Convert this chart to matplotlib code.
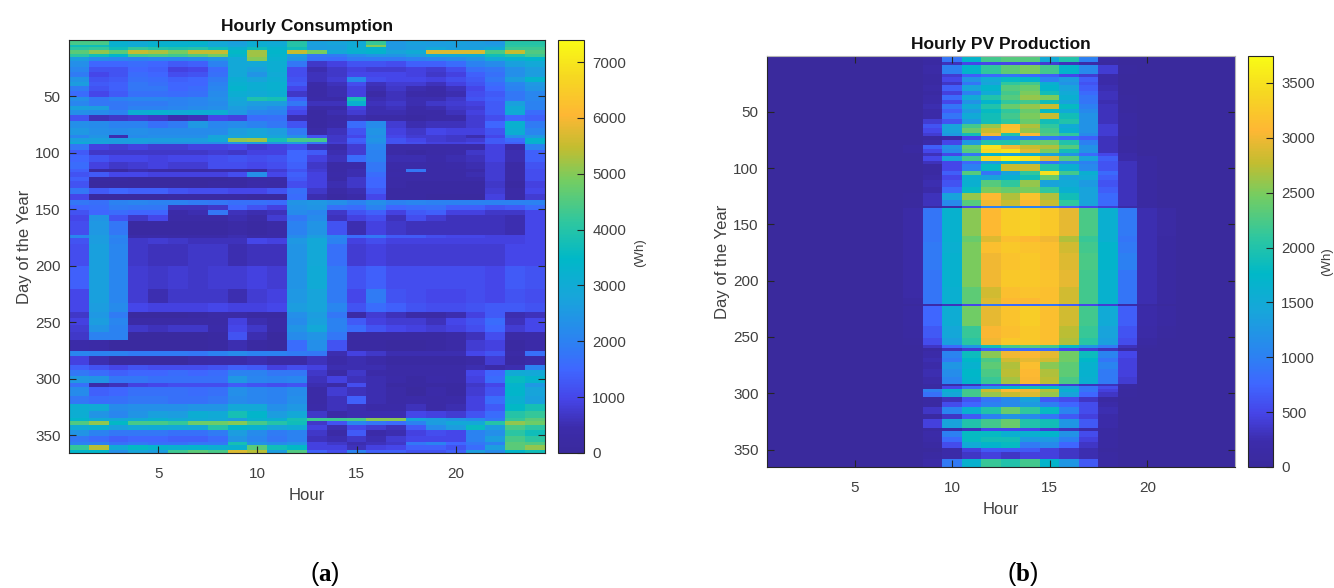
import matplotlib
matplotlib.use('Agg')
import matplotlib.pyplot as plt
from matplotlib.colors import LinearSegmentedColormap
import numpy as np

plt.rcParams['font.family'] = ['Liberation Sans', 'DejaVu Sans']
plt.rcParams['mathtext.fontset'] = 'custom'
plt.rcParams['mathtext.rm'] = 'Liberation Serif'
plt.rcParams['mathtext.bf'] = 'Liberation Serif:bold'

W, H = 1334, 588

# last day of each band, hourly consumption per band (hundreds of Wh, hours 1-24)
cons_end_days = [4, 6, 9, 12, 15, 19, 24, 28, 33, 37, 41, 45, 50, 54, 58, 62, 66, 72, 78, 84,
                 87, 90, 92, 97, 102, 108, 114, 117, 121, 125, 131, 136, 141, 146, 150, 155,
                 160, 172, 175, 180, 200, 220, 232, 240, 246, 252, 258, 265, 275, 279, 287,
                 292, 297, 303, 307, 315, 322, 328, 334, 337, 340, 345, 350, 355, 358, 362, 365]
cons_hundreds = [
    [44, 44, 32, 30, 32, 32, 33, 29, 27, 31, 30, 40, 27, 28, 30, 42, 25, 27, 26, 27, 26, 25, 40, 40],
    [37, 37, 32, 30, 33, 33, 31, 29, 28, 31, 31, 40, 26, 27, 30, 50, 25, 26, 26, 26, 26, 26, 41, 41],
    [41, 42, 37, 42, 40, 39, 40, 37, 32, 37, 33, 37, 26, 27, 31, 33, 25, 26, 29, 27, 27, 30, 43, 43],
    [46, 51, 46, 55, 53, 49, 55, 55, 35, 52, 34, 55, 49, 29, 32, 33, 28, 30, 57, 57, 57, 44, 55, 45],
    [41, 37, 34, 43, 44, 43, 45, 48, 33, 52, 33, 26, 18, 19, 22, 24, 24, 26, 29, 29, 30, 37, 39, 43],
    [26, 22, 21, 20, 21, 21, 22, 24, 29, 50, 32, 24, 17, 16, 19, 19, 19, 20, 21, 22, 24, 29, 32, 34],
    [23, 15, 15, 16, 15, 13, 14, 20, 29, 29, 31, 18, 7, 9, 12, 12, 11, 14, 14, 16, 20, 22, 27, 29],
    [21, 12, 12, 15, 14, 9, 10, 16, 29, 27, 31, 11, 5, 7, 9, 8, 8, 9, 8, 11, 17, 18, 23, 26],
    [19, 10, 12, 16, 15, 11, 12, 17, 29, 24, 30, 11, 6, 7, 10, 10, 10, 9, 7, 9, 14, 17, 23, 26],
    [24, 12, 13, 17, 16, 14, 15, 19, 31, 28, 31, 12, 6, 8, 22, 11, 10, 10, 9, 11, 13, 18, 26, 33],
    [26, 13, 14, 18, 17, 15, 15, 20, 32, 31, 32, 13, 4, 6, 11, 6, 8, 8, 6, 9, 12, 16, 21, 25],
    [19, 12, 14, 18, 18, 15, 16, 21, 33, 31, 32, 10, 3, 5, 9, 5, 7, 5, 4, 6, 10, 15, 20, 24],
    [16, 10, 13, 17, 17, 16, 17, 22, 31, 30, 31, 7, 3, 5, 9, 3, 6, 4, 3, 5, 11, 13, 18, 21],
    [23, 18, 20, 21, 21, 20, 21, 23, 29, 39, 38, 14, 4, 4, 38, 5, 6, 5, 5, 7, 12, 14, 18, 21],
    [21, 18, 18, 19, 19, 20, 21, 22, 28, 26, 26, 18, 6, 6, 32, 6, 7, 5, 7, 8, 9, 13, 27, 20],
    [27, 26, 18, 20, 20, 21, 22, 23, 26, 24, 22, 12, 3, 4, 9, 5, 6, 4, 5, 7, 8, 13, 30, 20],
    [23, 22, 20, 31, 32, 30, 31, 31, 25, 21, 20, 10, 2, 5, 8, 5, 5, 3, 3, 6, 9, 13, 30, 16],
    [12, 6, 7, 8, 7, 5, 6, 10, 9, 16, 17, 5, 2, 3, 5, 3, 3, 2, 3, 4, 8, 11, 15, 14],
    [23, 22, 20, 20, 17, 19, 25, 21, 22, 20, 18, 12, 2, 4, 16, 22, 8, 5, 6, 6, 8, 15, 32, 19],
    [25, 23, 22, 23, 22, 22, 22, 22, 26, 28, 26, 19, 3, 6, 12, 24, 9, 7, 10, 9, 9, 12, 31, 21],
    [21, 24, 5, 22, 23, 23, 23, 28, 28, 29, 28, 23, 12, 7, 10, 23, 10, 8, 8, 7, 5, 10, 23, 25],
    [27, 27, 26, 27, 26, 26, 26, 29, 51, 52, 38, 44, 44, 7, 14, 24, 12, 10, 8, 7, 8, 13, 16, 33],
    [30, 28, 26, 26, 24, 24, 24, 23, 25, 26, 25, 26, 18, 8, 13, 23, 12, 11, 9, 9, 10, 13, 14, 32],
    [18, 9, 8, 9, 8, 8, 9, 9, 10, 8, 9, 11, 6, 4, 8, 21, 3, 3, 3, 3, 3, 9, 4, 20],
    [13, 7, 7, 7, 7, 7, 7, 8, 7, 9, 9, 15, 13, 5, 8, 20, 3, 2, 3, 4, 7, 9, 5, 14],
    [15, 12, 10, 10, 9, 10, 10, 11, 12, 11, 12, 15, 9, 6, 16, 20, 5, 5, 4, 5, 6, 9, 5, 14],
    [16, 9, 7, 8, 9, 8, 8, 11, 11, 10, 11, 14, 7, 3, 4, 18, 4, 4, 3, 4, 5, 8, 3, 12],
    [14, 2, 2, 5, 4, 3, 3, 4, 4, 2, 8, 12, 8, 3, 5, 18, 3, 18, 3, 3, 4, 8, 3, 11],
    [12, 13, 10, 10, 9, 9, 9, 9, 11, 23, 10, 14, 9, 4, 5, 16, 4, 3, 3, 3, 5, 8, 3, 11],
    [14, 2, 2, 1, 1, 1, 1, 1, 2, 3, 4, 13, 9, 3, 7, 15, 3, 3, 3, 3, 4, 8, 3, 11],
    [12, 1, 1, 1, 1, 1, 1, 2, 2, 4, 3, 11, 9, 5, 7, 15, 3, 2, 2, 2, 2, 7, 2, 9],
    [18, 13, 15, 14, 14, 12, 11, 11, 10, 10, 12, 17, 7, 3, 5, 13, 2, 2, 2, 2, 2, 8, 3, 10],
    [10, 1, 1, 1, 1, 2, 2, 2, 2, 1, 1, 16, 5, 2, 4, 10, 2, 2, 1, 1, 1, 9, 3, 8],
    [18, 17, 20, 21, 20, 20, 19, 18, 17, 17, 16, 24, 25, 23, 20, 23, 20, 21, 20, 20, 20, 20, 20, 20],
    [15, 16, 19, 18, 18, 6, 6, 7, 15, 12, 9, 23, 24, 17, 16, 20, 15, 16, 17, 14, 14, 12, 13, 16],
    [12, 15, 16, 15, 15, 4, 5, 18, 6, 5, 6, 22, 21, 7, 12, 14, 9, 13, 14, 9, 9, 7, 7, 10],
    [10, 24, 12, 7, 10, 3, 3, 3, 5, 3, 8, 18, 22, 6, 9, 11, 6, 11, 8, 6, 6, 6, 5, 10],
    [11, 25, 18, 2, 2, 2, 2, 2, 3, 2, 3, 20, 24, 12, 5, 9, 7, 6, 6, 6, 6, 6, 5, 10],
    [21, 26, 21, 4, 4, 3, 4, 4, 5, 3, 4, 22, 26, 21, 16, 18, 13, 13, 11, 10, 10, 9, 9, 10],
    [12, 26, 20, 7, 8, 7, 6, 6, 6, 10, 9, 25, 29, 20, 9, 11, 9, 9, 9, 9, 9, 9, 9, 10],
    [11, 27, 21, 7, 6, 6, 7, 7, 5, 6, 6, 24, 29, 17, 8, 9, 8, 8, 8, 8, 8, 8, 10, 10],
    [14, 27, 21, 8, 7, 8, 7, 8, 8, 9, 8, 24, 30, 19, 12, 14, 11, 11, 11, 11, 11, 10, 13, 12],
    [10, 27, 21, 8, 5, 7, 7, 7, 5, 8, 9, 25, 28, 19, 10, 19, 12, 11, 10, 10, 11, 10, 12, 11],
    [10, 26, 22, 10, 9, 9, 9, 10, 9, 9, 10, 26, 28, 21, 12, 16, 14, 12, 11, 11, 12, 13, 13, 12],
    [7, 25, 19, 1, 1, 1, 2, 3, 3, 2, 2, 23, 26, 18, 3, 8, 6, 4, 3, 5, 9, 13, 5, 6],
    [9, 26, 21, 3, 3, 3, 3, 3, 9, 5, 3, 22, 27, 20, 13, 9, 8, 8, 6, 10, 12, 16, 6, 10],
    [8, 24, 20, 7, 6, 7, 7, 4, 10, 7, 3, 24, 29, 20, 16, 12, 10, 9, 8, 9, 11, 15, 8, 10],
    [7, 20, 20, 1, 1, 1, 1, 2, 12, 5, 1, 22, 24, 18, 2, 2, 2, 2, 2, 3, 6, 11, 3, 4],
    [4, 3, 1, 1, 1, 1, 1, 2, 5, 2, 1, 16, 23, 12, 2, 2, 1, 1, 2, 3, 8, 9, 2, 4],
    [21, 20, 20, 19, 19, 19, 18, 20, 22, 20, 20, 19, 18, 5, 9, 7, 5, 5, 5, 5, 10, 12, 3, 17],
    [9, 5, 1, 1, 1, 1, 3, 4, 4, 5, 3, 3, 6, 4, 5, 4, 2, 2, 2, 2, 3, 8, 2, 4],
    [14, 12, 10, 12, 11, 11, 11, 12, 14, 13, 9, 11, 9, 5, 5, 5, 3, 3, 3, 3, 5, 4, 5, 20],
    [18, 16, 14, 15, 15, 16, 15, 16, 20, 20, 18, 18, 7, 3, 7, 4, 3, 3, 3, 3, 10, 15, 30, 29],
    [25, 24, 18, 18, 17, 17, 17, 17, 25, 21, 20, 21, 6, 9, 6, 5, 4, 2, 4, 3, 9, 16, 36, 33],
    [17, 4, 6, 9, 10, 11, 11, 11, 13, 12, 11, 12, 5, 3, 11, 5, 2, 2, 2, 2, 7, 10, 33, 25],
    [22, 14, 15, 17, 17, 17, 16, 17, 23, 21, 20, 22, 3, 8, 6, 5, 3, 1, 4, 2, 8, 12, 34, 28],
    [18, 16, 17, 18, 18, 17, 17, 18, 22, 21, 20, 23, 3, 6, 14, 5, 3, 4, 3, 4, 9, 16, 32, 27],
    [31, 30, 22, 23, 23, 23, 24, 24, 29, 29, 23, 25, 4, 6, 5, 4, 4, 6, 3, 5, 9, 13, 35, 38],
    [31, 24, 21, 24, 27, 26, 31, 30, 38, 34, 26, 29, 7, 3, 5, 5, 5, 10, 9, 8, 12, 16, 40, 42],
    [34, 30, 29, 30, 32, 30, 30, 29, 26, 32, 31, 38, 43, 43, 44, 50, 50, 28, 26, 24, 22, 18, 42, 46],
    [45, 51, 35, 44, 44, 42, 48, 48, 50, 44, 40, 37, 7, 12, 21, 18, 16, 20, 26, 29, 29, 40, 51, 48],
    [30, 32, 27, 29, 30, 29, 29, 40, 34, 32, 28, 30, 9, 5, 10, 8, 6, 13, 22, 26, 36, 26, 44, 41],
    [24, 20, 18, 18, 18, 17, 17, 19, 26, 22, 19, 20, 7, 3, 13, 4, 5, 9, 11, 10, 20, 23, 41, 37],
    [18, 16, 14, 15, 15, 14, 14, 16, 24, 21, 18, 20, 6, 5, 7, 5, 8, 10, 10, 10, 20, 26, 44, 41],
    [20, 20, 17, 18, 17, 17, 18, 18, 38, 24, 22, 24, 9, 7, 5, 6, 7, 18, 20, 15, 18, 20, 46, 45],
    [42, 54, 30, 35, 33, 32, 33, 31, 32, 46, 37, 35, 9, 9, 6, 9, 10, 14, 14, 12, 16, 26, 46, 51],
    [34, 34, 23, 28, 26, 43, 46, 44, 57, 54, 26, 45, 14, 11, 20, 14, 14, 12, 12, 14, 26, 22, 34, 37],
]

# last day of each band, PV production per band (Wh, hours 8-21, nothing outside them)
pv_first_hour = 8
pv_end_days = [5, 8, 16, 19, 23, 26, 31, 35, 39, 43, 47, 51, 56, 60, 64, 68, 71, 75, 79, 83,
               86, 89, 93, 96, 102, 106, 110, 116, 122, 128, 133, 135, 160, 165, 175, 190,
               205, 215, 220, 222, 240, 250, 257, 259, 262, 268, 272, 278, 285, 291, 293,
               296, 298, 303, 307, 312, 318, 322, 330, 333, 338, 343, 348, 352, 358, 365]
pv_wh = [
    [0, 100, 900, 1700, 2200, 2300, 2300, 1500, 2000, 1000, 100, 0, 0, 0],
    [0, 100, 300, 500, 500, 500, 500, 400, 300, 200, 50, 0, 0, 0],
    [0, 150, 1000, 1700, 2100, 2350, 2500, 2200, 1700, 1100, 400, 50, 0, 0],
    [0, 100, 400, 700, 800, 900, 800, 700, 500, 400, 200, 0, 0, 0],
    [0, 100, 500, 1200, 1500, 1800, 1700, 1000, 1300, 700, 200, 0, 0, 0],
    [0, 100, 350, 900, 1400, 2100, 2200, 1600, 1200, 600, 200, 0, 0, 0],
    [0, 150, 700, 1400, 1700, 2300, 2400, 1700, 1400, 700, 250, 0, 0, 0],
    [0, 100, 450, 1000, 1500, 2200, 2500, 1900, 1500, 800, 300, 0, 0, 0],
    [0, 150, 800, 1500, 2000, 2300, 2600, 2500, 1600, 900, 300, 50, 0, 0],
    [0, 200, 500, 1200, 1700, 2100, 2200, 1900, 1400, 900, 250, 50, 0, 0],
    [0, 250, 900, 1500, 2000, 2400, 2600, 2800, 1800, 1000, 300, 50, 0, 0],
    [0, 200, 700, 1300, 1800, 2100, 2400, 1800, 1500, 1100, 300, 50, 0, 0],
    [0, 200, 900, 1500, 1900, 2200, 2500, 2800, 1900, 1200, 300, 100, 0, 0],
    [0, 400, 600, 1300, 1900, 2100, 2400, 1900, 2000, 1200, 300, 100, 0, 0],
    [0, 600, 1400, 2200, 2600, 3150, 2700, 2100, 1500, 1200, 400, 100, 0, 0],
    [0, 500, 1400, 2400, 2800, 3200, 2600, 2200, 1600, 1200, 400, 100, 0, 0],
    [0, 400, 1300, 1900, 3000, 2000, 3100, 2300, 2100, 1100, 400, 100, 0, 0],
    [0, 100, 200, 500, 900, 1100, 1000, 900, 800, 700, 300, 50, 0, 0],
    [0, 200, 500, 1300, 2000, 2000, 2300, 2400, 2000, 1000, 300, 100, 0, 0],
    [100, 700, 1200, 2400, 3500, 3000, 2800, 2700, 2300, 1200, 300, 100, 0, 0],
    [100, 500, 1100, 2300, 3400, 3500, 2900, 2500, 1900, 1200, 300, 100, 0, 0],
    [0, 300, 500, 900, 1700, 1400, 1600, 1400, 1200, 800, 500, 200, 0, 0],
    [0, 500, 1400, 2200, 3400, 3650, 3500, 2900, 2300, 1400, 700, 200, 100, 0],
    [0, 300, 500, 800, 1300, 1600, 1400, 900, 1100, 1000, 600, 300, 100, 0],
    [0, 100, 500, 1000, 1800, 2800, 2800, 2000, 1600, 1100, 600, 300, 100, 0],
    [0, 100, 700, 2300, 900, 1400, 2100, 3500, 2200, 1600, 800, 300, 100, 0],
    [0, 150, 500, 1600, 1400, 1600, 1900, 2400, 1400, 1500, 700, 300, 100, 0],
    [0, 250, 600, 1600, 2300, 2100, 2600, 1400, 1500, 1300, 600, 300, 100, 0],
    [0, 200, 800, 1800, 2500, 2400, 2500, 2100, 1600, 1400, 700, 300, 100, 0],
    [50, 300, 1400, 2600, 3100, 2700, 3200, 2700, 1900, 1400, 800, 300, 100, 0],
    [50, 300, 1100, 2300, 3000, 2800, 3100, 2800, 2100, 1400, 800, 300, 100, 0],
    [50, 100, 200, 500, 1000, 1100, 1000, 900, 700, 500, 400, 200, 100, 0],
    [150, 900, 1650, 2550, 3100, 3300, 3350, 3250, 2950, 2250, 1600, 950, 250, 120],
    [150, 900, 1650, 2400, 2900, 3150, 3100, 3000, 2700, 2150, 1600, 900, 250, 100],
    [150, 950, 1600, 2500, 3150, 3250, 3200, 3150, 2850, 2200, 1700, 950, 250, 100],
    [150, 950, 1650, 2500, 3000, 3200, 3250, 3150, 2900, 2250, 1700, 1000, 250, 100],
    [150, 900, 1650, 2500, 3000, 3250, 3250, 3200, 2950, 2200, 1650, 900, 250, 100],
    [150, 900, 1600, 2350, 2850, 3150, 3200, 3150, 2850, 2200, 1650, 900, 250, 100],
    [100, 900, 1600, 2350, 2900, 3100, 3100, 3150, 2850, 2200, 1650, 900, 250, 100],
    [0, 200, 300, 500, 900, 800, 800, 900, 700, 500, 400, 200, 100, 0],
    [100, 750, 1550, 2450, 2950, 3200, 3300, 3150, 2850, 2200, 1500, 700, 200, 100],
    [80, 650, 1450, 2150, 3050, 3150, 3250, 3150, 2750, 2150, 1400, 600, 150, 50],
    [50, 550, 1350, 2050, 3000, 3250, 3250, 3150, 2700, 2050, 1350, 550, 100, 0],
    [0, 350, 800, 1250, 1900, 2200, 2300, 2200, 1800, 1250, 950, 300, 50, 0],
    [0, 100, 300, 400, 700, 800, 800, 800, 500, 400, 300, 100, 0, 0],
    [0, 200, 1050, 1850, 2550, 3000, 3050, 2950, 2450, 1850, 1050, 500, 0, 0],
    [0, 250, 950, 1750, 2250, 2850, 2950, 2850, 2450, 1750, 900, 450, 0, 0],
    [0, 200, 1250, 1650, 2350, 2700, 3150, 2550, 2350, 1650, 1050, 450, 0, 0],
    [0, 250, 1150, 1750, 2250, 2750, 3100, 2700, 2350, 1650, 950, 450, 0, 0],
    [0, 200, 1050, 1700, 2150, 2650, 3050, 2750, 2250, 1600, 950, 400, 0, 0],
    [0, 100, 200, 300, 500, 500, 500, 500, 400, 300, 300, 100, 0, 0],
    [0, 100, 500, 900, 1300, 1700, 1900, 1800, 1400, 900, 550, 100, 0, 0],
    [0, 1000, 1600, 2200, 2800, 3100, 3000, 2700, 1600, 900, 450, 50, 0, 0],
    [0, 850, 1450, 2200, 2600, 2800, 2900, 2600, 1400, 750, 350, 50, 0, 0],
    [0, 100, 300, 600, 900, 1100, 1400, 650, 550, 350, 100, 0, 0, 0],
    [0, 100, 550, 750, 1000, 1100, 1300, 1000, 750, 550, 200, 0, 0, 0],
    [0, 350, 1050, 1600, 2000, 2400, 2100, 1800, 1050, 550, 250, 0, 0, 0],
    [0, 100, 350, 650, 1000, 1200, 1100, 900, 650, 450, 200, 0, 0, 0],
    [0, 450, 1400, 2000, 2200, 2400, 2000, 1900, 1250, 650, 200, 0, 0, 0],
    [0, 100, 200, 300, 500, 500, 500, 400, 300, 200, 100, 0, 0, 0],
    [0, 200, 1000, 1800, 1800, 1600, 1600, 1700, 1200, 550, 100, 0, 0, 0],
    [0, 150, 800, 1800, 1900, 1900, 1300, 1300, 1000, 450, 100, 0, 0, 0],
    [0, 100, 550, 1500, 1700, 1800, 950, 1100, 750, 350, 100, 0, 0, 0],
    [0, 0, 200, 450, 650, 650, 650, 450, 350, 250, 50, 0, 0, 0],
    [0, 100, 200, 350, 450, 350, 450, 450, 350, 250, 100, 0, 0, 0],
    [0, 150, 950, 1650, 2150, 2000, 2200, 1700, 1250, 650, 100, 0, 0, 0],
]

hour_ticks = [5, 10, 15, 20]
day_ticks = [50, 100, 150, 200, 250, 300, 350]
cons_cbar_ticks = [0, 1000, 2000, 3000, 4000, 5000, 6000, 7000]
pv_cbar_ticks = [0, 500, 1000, 1500, 2000, 2500, 3000, 3500]
cons_max = 7394
pv_max = 3746

parula = LinearSegmentedColormap.from_list('parula_old', [
    (0.00, '#3a2a9d'), (0.06, '#3c2cab'), (0.13, '#4645e8'), (0.20, '#3f66ff'),
    (0.27, '#2c82f2'), (0.38, '#17a6da'), (0.47, '#00b8c8'), (0.56, '#2fc79f'),
    (0.66, '#74cd62'), (0.74, '#c2bd30'), (0.82, '#feb734'), (0.91, '#f6d722'),
    (1.00, '#f9fb15')])


def bands_to_days(end_days, rows):
    # one row per day, each band repeated over its days
    rows = np.array(rows, dtype=float)
    starts = [0] + end_days[:-1]
    lengths = np.array(end_days) - np.array(starts)
    return np.repeat(rows, lengths, axis=0)


def px_axes(fig, x0, y0, x1, y1):
    return fig.add_axes([x0 / W, 1 - y1 / H, (x1 - x0) / W, (y1 - y0) / H])


def draw_panel(fig, data, vmax, box, cbar_box, cbar_ticks, title, unit_xy, title_y, light_edges=False):
    ax = px_axes(fig, *box)
    im = ax.imshow(data, cmap=parula, vmin=0, vmax=vmax, aspect='auto',
                   extent=(0.5, 24.5, 365.5, 0.5), interpolation='nearest')
    ax.set_xticks(hour_ticks)
    ax.set_yticks(day_ticks)
    ax.tick_params(direction='in', top=True, right=True, length=5, width=0.8,
                   color='#262626', labelcolor='#404040', labelsize=11, pad=6)
    ax.tick_params(axis='x', pad=10)
    ax.set_xlabel('Hour', fontsize=12, color='#404040', labelpad=5)
    ax.set_ylabel('Day of the Year', fontsize=12, color='#404040', labelpad=2)
    fig.text((box[0] + box[2]) / 2 / W, 1 - title_y / H, title, fontsize=12.5,
             fontweight='bold', color='#111111', ha='center', va='center')
    for name, spine in ax.spines.items():
        spine.set_color('#262626')
        spine.set_linewidth(0.8)
        if light_edges and name in ('top', 'right'):
            spine.set_color('#b5b5b5')

    cax = px_axes(fig, *cbar_box)
    cb = fig.colorbar(im, cax=cax)
    cb.set_ticks(cbar_ticks)
    cax.tick_params(direction='in', length=5, width=0.8, color='#262626',
                    labelcolor='#404040', labelsize=10.8, pad=6)
    cb.outline.set_edgecolor('#262626')
    cb.outline.set_linewidth(0.8)
    fig.text(unit_xy[0] / W, 1 - unit_xy[1] / H, '(Wh)', rotation=90, fontsize=9.5,
             color='#404040', ha='center', va='center')


fig = plt.figure(figsize=(W / 100, H / 100), dpi=100)

cons = bands_to_days(cons_end_days, cons_hundreds) * 100
pv_part = bands_to_days(pv_end_days, pv_wh)
pv = np.zeros((365, 24))
pv[:, pv_first_hour - 1:pv_first_hour - 1 + pv_part.shape[1]] = pv_part

draw_panel(fig, cons, cons_max, (69, 40, 545, 453), (558, 40, 584, 453), cons_cbar_ticks,
           'Hourly Consumption', (640, 253), 26)
draw_panel(fig, pv, pv_max, (767, 56, 1235, 467), (1248, 56, 1273, 467), pv_cbar_ticks,
           'Hourly PV Production', (1327, 262), 44, light_edges=True)

fig.text(325 / W, 1 - 574 / H, r'($\mathbf{a}$)', fontsize=18, color='black', ha='center', va='center')
fig.text(1023 / W, 1 - 574 / H, r'($\mathbf{b}$)', fontsize=18, color='black', ha='center', va='center')

fig.savefig('out.png', dpi=100)
